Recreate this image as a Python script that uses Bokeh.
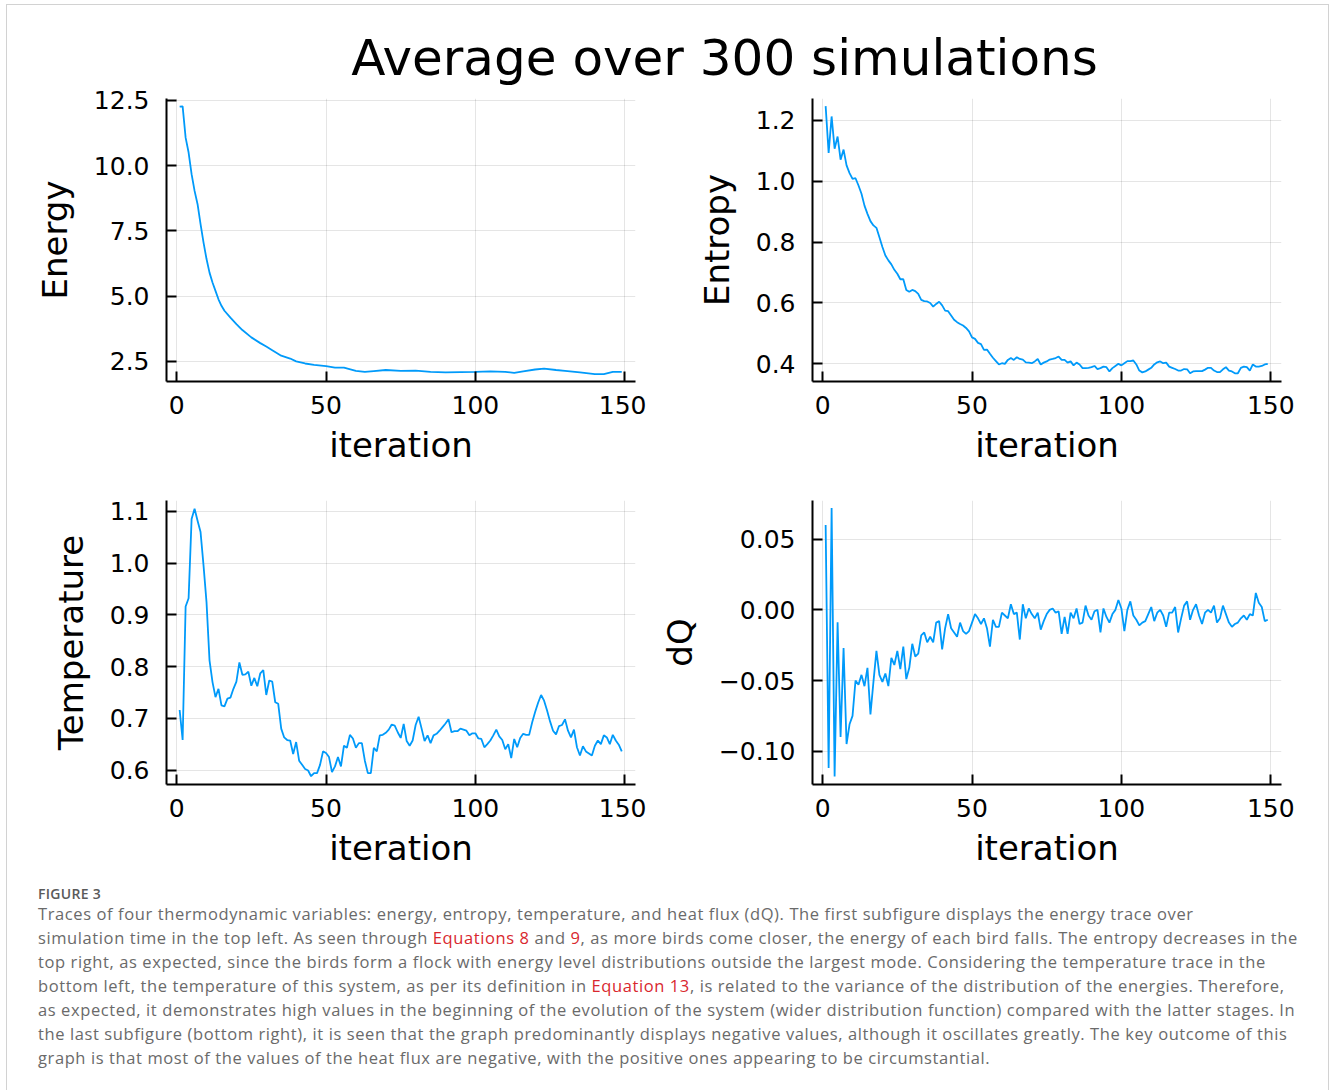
from bokeh.plotting import figure
from bokeh.models import Range1d, FixedTicker, Div
from bokeh.layouts import column, row
from bokeh.core.properties import value
from bokeh.embed import file_html
from bokeh.resources import INLINE

TITLE = "Average over 300 simulations"
X_LABEL = "iteration"
LINE_COLOR = "#009AFA"

# ---------------- data ----------------
energy_iter = [1, 2, 3, 4, 5, 6, 7, 8, 9, 10, 11, 12, 13, 14, 15, 16, 18, 20, 22, 25,
               28, 30, 32, 35, 38, 40, 43, 46, 50, 53, 56, 60, 63, 66, 70, 75, 80, 85,
               90, 95, 100, 105, 110, 113, 116, 120, 123, 127, 130, 135, 140, 143, 146, 149]
energy = [12.26, 12.27, 11.07, 10.5, 9.67, 9.03, 8.52, 7.76, 7.05, 6.42, 5.9, 5.52, 5.2,
          4.88, 4.63, 4.44, 4.18, 3.93, 3.70, 3.42, 3.2, 3.07, 2.93, 2.72, 2.61, 2.5,
          2.42, 2.37, 2.32, 2.26, 2.26, 2.14, 2.1, 2.13, 2.17, 2.14, 2.15, 2.1, 2.08,
          2.09, 2.1, 2.12, 2.1, 2.06, 2.12, 2.19, 2.22, 2.17, 2.14, 2.08, 2.01, 2.01,
          2.1, 2.1]

iterations = list(range(1, 150))

entropy = [1.247, 1.093, 1.213, 1.107, 1.147, 1.071, 1.104, 1.052, 1.027, 1.008,
           1.010, 0.986, 0.959, 0.920, 0.893, 0.869, 0.855, 0.847, 0.816, 0.784,
           0.756, 0.740, 0.727, 0.709, 0.696, 0.678, 0.678, 0.643, 0.637, 0.643,
           0.639, 0.630, 0.610, 0.606, 0.605, 0.600, 0.588, 0.597, 0.604, 0.592,
           0.575, 0.573, 0.559, 0.545, 0.537, 0.531, 0.526, 0.518, 0.507, 0.487,
           0.482, 0.469, 0.465, 0.446, 0.447, 0.433, 0.420, 0.409, 0.398, 0.402,
           0.400, 0.413, 0.419, 0.413, 0.422, 0.416, 0.414, 0.405, 0.404, 0.402,
           0.408, 0.416, 0.398, 0.404, 0.408, 0.414, 0.416, 0.419, 0.424, 0.413,
           0.413, 0.404, 0.408, 0.395, 0.404, 0.398, 0.386, 0.386, 0.387, 0.389,
           0.393, 0.383, 0.386, 0.391, 0.389, 0.375, 0.386, 0.393, 0.400, 0.395,
           0.402, 0.409, 0.409, 0.411, 0.398, 0.378, 0.372, 0.375, 0.381, 0.387,
           0.398, 0.405, 0.408, 0.402, 0.404, 0.391, 0.387, 0.383, 0.378, 0.378,
           0.383, 0.382, 0.369, 0.375, 0.376, 0.376, 0.376, 0.381, 0.387, 0.387,
           0.378, 0.373, 0.373, 0.382, 0.389, 0.378, 0.375, 0.369, 0.369, 0.387,
           0.391, 0.389, 0.378, 0.398, 0.391, 0.391, 0.393, 0.398, 0.400]

temperature = [0.716, 0.658, 0.916, 0.932, 1.085, 1.105, 1.082, 1.060, 0.995, 0.924,
               0.812, 0.770, 0.741, 0.757, 0.725, 0.723, 0.738, 0.740, 0.757, 0.771,
               0.808, 0.784, 0.785, 0.790, 0.763, 0.778, 0.762, 0.787, 0.793, 0.745,
               0.773, 0.771, 0.731, 0.728, 0.680, 0.663, 0.658, 0.657, 0.631, 0.654,
               0.618, 0.610, 0.602, 0.599, 0.588, 0.594, 0.594, 0.610, 0.636, 0.633,
               0.625, 0.596, 0.607, 0.625, 0.607, 0.647, 0.643, 0.668, 0.661, 0.643,
               0.652, 0.652, 0.618, 0.594, 0.594, 0.643, 0.636, 0.667, 0.668, 0.672,
               0.678, 0.688, 0.686, 0.673, 0.662, 0.689, 0.656, 0.647, 0.657, 0.687,
               0.703, 0.680, 0.656, 0.667, 0.652, 0.667, 0.670, 0.676, 0.683, 0.690,
               0.698, 0.673, 0.675, 0.675, 0.680, 0.678, 0.676, 0.667, 0.671, 0.671,
               0.661, 0.660, 0.644, 0.650, 0.657, 0.667, 0.678, 0.665, 0.658, 0.640,
               0.650, 0.623, 0.660, 0.644, 0.662, 0.670, 0.668, 0.668, 0.692, 0.712,
               0.730, 0.745, 0.734, 0.715, 0.694, 0.676, 0.669, 0.685, 0.687, 0.698,
               0.676, 0.663, 0.678, 0.644, 0.628, 0.646, 0.636, 0.632, 0.628, 0.647,
               0.657, 0.650, 0.667, 0.663, 0.650, 0.668, 0.657, 0.649, 0.636]

dq = [0.060, -0.112, 0.072, -0.118, -0.0087, -0.090, -0.027, -0.095, -0.081, -0.075,
      -0.050, -0.053, -0.046, -0.054, -0.041, -0.074, -0.051, -0.029, -0.046, -0.051,
      -0.045, -0.054, -0.034, -0.039, -0.029, -0.042, -0.026, -0.049, -0.041, -0.024,
      -0.033, -0.031, -0.018, -0.016, -0.023, -0.019, -0.023, -0.009, -0.008, -0.028,
      -0.013, -0.003, -0.013, -0.016, -0.019, -0.009, -0.015, -0.017, -0.015, -0.009,
      -0.003, -0.006, -0.010, -0.006, -0.013, -0.026, -0.007, -0.012, -0.012, -0.002,
      -0.004, -0.006, 0.004, -0.003, -0.002, -0.021, 0.004, -0.006, 0.001, -0.003,
      -0.006, -0.002, -0.014, -0.008, -0.003, 0.000, 0.001, -0.002, -0.001, -0.017,
      -0.005, -0.017, -0.002, -0.006, 0.001, -0.010, -0.009, 0.003, -0.004, -0.007,
      -0.001, 0.000, -0.016, 0.001, -0.005, -0.009, -0.003, 0.000, 0.007, 0.001,
      -0.015, 0.000, 0.006, -0.004, -0.007, -0.011, -0.009, -0.008, -0.003, 0.002,
      -0.008, -0.002, 0.000, -0.004, -0.012, -0.002, -0.002, 0.002, -0.016, -0.006,
      0.003, 0.006, -0.007, 0.000, 0.004, -0.004, -0.010, -0.002, 0.000, -0.002,
      0.003, -0.009, -0.006, 0.003, -0.003, -0.009, -0.012, -0.010, -0.009, -0.006,
      -0.004, -0.007, -0.003, -0.004, 0.012, 0.005, 0.002, -0.008, -0.007]

x_ticks = [0, 50, 100, 150]
x_tick_labels = ["0", "50", "100", "150"]
energy_ticks = [2.5, 5.0, 7.5, 10.0, 12.5]
energy_tick_labels = ["2.5", "5.0", "7.5", "10.0", "12.5"]
entropy_ticks = [0.4, 0.6, 0.8, 1.0, 1.2]
entropy_tick_labels = ["0.4", "0.6", "0.8", "1.0", "1.2"]
temperature_ticks = [0.6, 0.7, 0.8, 0.9, 1.0, 1.1]
temperature_tick_labels = ["0.6", "0.7", "0.8", "0.9", "1.0", "1.1"]
dq_ticks = [-0.10, -0.05, 0.0, 0.05]
dq_tick_labels = ["\u22120.10", "\u22120.05", "0.00", "0.05"]

FONT = "DejaVu Sans"


def panel(xs, ys, ylabel, yrange, yticks, ylabels, width, mb_left, mb_right,
          mb_top, mb_bottom, frame_h):
    p = figure(width=width, height=mb_top + frame_h + mb_bottom,
               x_range=Range1d(-3.4, 153.6), y_range=Range1d(*yrange),
               output_backend="svg", toolbar_location=None,
               min_border_left=mb_left, min_border_right=mb_right,
               min_border_top=mb_top, min_border_bottom=mb_bottom)
    p.border_fill_color = None
    p.background_fill_color = "white"
    p.outline_line_color = None
    p.line(xs, ys, line_color=LINE_COLOR, line_width=1.8)

    p.xaxis.ticker = FixedTicker(ticks=x_ticks)
    p.xaxis.major_label_overrides = dict(zip(x_ticks, x_tick_labels))
    p.yaxis.ticker = FixedTicker(ticks=yticks)
    p.yaxis.major_label_overrides = dict(zip(yticks, ylabels))
    p.xaxis.axis_label = X_LABEL
    p.yaxis.axis_label = ylabel
    for ax in (p.xaxis[0], p.yaxis[0]):
        ax.axis_line_color = "black"
        ax.axis_line_width = 2
        ax.major_tick_line_color = "black"
        ax.major_tick_line_width = 2
        ax.major_tick_in = 10
        ax.major_tick_out = 0
        ax.minor_tick_line_color = None
        ax.major_label_text_font = FONT
        ax.major_label_text_font_size = "25px"
        ax.major_label_text_color = "black"
        ax.axis_label_text_font = FONT
        ax.axis_label_text_font_size = "34px"
        ax.axis_label_text_font_style = "normal"
        ax.axis_label_text_color = "black"
    p.xaxis.major_label_standoff = 14
    p.xaxis.axis_label_standoff = 8
    p.yaxis.major_label_standoff = 17
    p.yaxis.axis_label_standoff = 16
    for g in (p.xgrid[0], p.ygrid[0]):
        g.grid_line_color = "black"
        g.grid_line_alpha = 0.1
        g.grid_line_width = 1
    return p


# title
TITLE_H = 86
pt = figure(width=1330, height=TITLE_H, x_range=Range1d(0, 1330), y_range=Range1d(0, TITLE_H),
            output_backend="svg", toolbar_location=None,
            min_border=0, min_border_left=0, min_border_right=0,
            min_border_top=0, min_border_bottom=0)
pt.axis.visible = False
pt.grid.visible = False
pt.outline_line_color = None
pt.border_fill_color = None
pt.background_fill_color = None
pt.text(x=[724], y=[TITLE_H - 57], text=[TITLE], text_font=value(FONT), text_font_size="50px",
        text_align="center", text_baseline="middle", text_color="black")

p1 = panel(energy_iter, energy, "Energy", (1.73, 12.57), energy_ticks, energy_tick_labels,
           646, 166, 11, 98 - TITLE_H, 99, 283)
p2 = panel(iterations, entropy, "Entropy", (0.342, 1.272), entropy_ticks, entropy_tick_labels,
           684, 166, 49, 98 - TITLE_H, 99, 283)
p3 = panel(iterations, temperature, "Temperature", (0.572, 1.121), temperature_ticks,
           temperature_tick_labels, 646, 166, 11, 20, 96, 284)
p4 = panel(iterations, dq, "dQ", (-0.1236, 0.0774), dq_ticks, dq_tick_labels,
           684, 166, 49, 20, 96, 284)

RED = "#d9272e"
cap_lines = [
    "Traces of four thermodynamic variables: energy, entropy, temperature, and heat flux (dQ). The first subfigure displays the energy trace over",
    f"simulation time in the top left. As seen through <span style='color:{RED}'>Equations 8</span> and <span style='color:{RED}'>9</span>, as more birds come closer, the energy of each bird falls. The entropy decreases in the",
    "top right, as expected, since the birds form a flock with energy level distributions outside the largest mode. Considering the temperature trace in the",
    f"bottom left, the temperature of this system, as per its definition in <span style='color:{RED}'>Equation 13</span>, is related to the variance of the distribution of the energies. Therefore,",
    "as expected, it demonstrates high values in the beginning of the evolution of the system (wider distribution function) compared with the latter stages. In",
    "the last subfigure (bottom right), it is seen that the graph predominantly displays negative values, although it oscillates greatly. The key outcome of this",
    "graph is that most of the values of the heat flux are negative, with the positive ones appearing to be circumstantial.",
]
cap_html = (
    "<div style=\"margin-left:33px; margin-top:1px; font-family:'Open Sans'; color:#6a6a6a;\">"
    "<div style=\"font-size:14px; line-height:16px; font-weight:600; color:#5a5a5a; letter-spacing:0.3px;\">FIGURE 3</div>"
    "<div style=\"font-size:16.5px; line-height:24px; white-space:nowrap; letter-spacing:0.6px;\">"
    + "<br>".join(cap_lines) + "</div></div>"
)
cap = Div(text=cap_html, width=1330, height=210)

layout = column(
    pt, row(p1, p2), row(p3, p4), cap,
    styles={
        "background-image": "linear-gradient(#d2d2d2,#d2d2d2), linear-gradient(#d2d2d2,#d2d2d2), linear-gradient(#d2d2d2,#d2d2d2)",
        "background-position": "6px 4px, 6px 4px, 1328px 4px",
        "background-size": "1px 1200px, 1323px 1px, 1px 1200px",
        "background-repeat": "no-repeat",
    },
)

open("out.html", "w").write(file_html(layout, INLINE))
